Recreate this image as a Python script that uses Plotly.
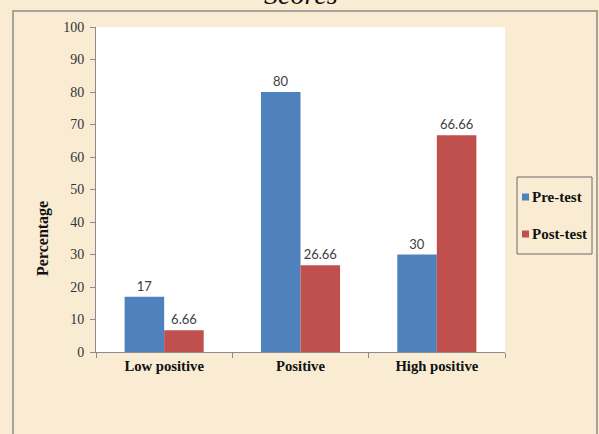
import plotly.graph_objects as go

categories = ["Low positive", "Positive", "High positive"]
series_names = ["Pre-test", "Post-test"]
pre_test = [17, 80, 30]
post_test = [6.66, 26.66, 66.66]
y_ticks = [0, 10, 20, 30, 40, 50, 60, 70, 80, 90, 100]
colors = ["#4F81BD", "#C0504D"]

W, H = 599, 434
L, R, T, B = 96, 505, 27, 352  # plot area pixel edges

def px_x(px):
    return (px - L) / (R - L)

def px_y(py):
    return (B - py) / (B - T)

fig = go.Figure()
for name, vals, col in zip(series_names, [pre_test, post_test], colors):
    fig.add_trace(go.Bar(
        x=categories, y=vals, name=name, marker_color=col,
        marker_line_width=0,
        text=[f"{v:g}" for v in vals], textposition="outside",
        textfont=dict(family="Lato", size=13, color="#404040"),
        cliponaxis=False, showlegend=False,
    ))

serif = "Liberation Serif"
shapes = [
    # outer chart frame
    dict(type="rect", xref="paper", yref="paper", x0=px_x(13), x1=px_x(597),
         y0=px_y(460), y1=px_y(11), line=dict(color="#8c8c8c", width=1.5), layer="below"),
    # legend box
    dict(type="rect", xref="paper", yref="paper", x0=px_x(517), x1=px_x(592),
         y0=px_y(254), y1=px_y(177), line=dict(color="#6b6b6b", width=1)),
]
annotations = [
    dict(text="<i>Scores</i>", xref="paper", yref="paper", x=0.5, y=px_y(12),
         xanchor="center", yanchor="bottom", showarrow=False,
         font=dict(family=serif, size=28, color="#111111")),
    dict(text="<b>Percentage</b>", xref="paper", yref="paper", x=px_x(43), y=px_y(239),
         xanchor="center", yanchor="middle", textangle=-90, showarrow=False,
         font=dict(family=serif, size=16, color="#111111")),
]
leg_y = [197, 234]
for name, col, ly in zip(series_names, colors, leg_y):
    shapes.append(dict(type="rect", xref="paper", yref="paper",
                       x0=px_x(522), x1=px_x(529), y0=px_y(ly + 3.5), y1=px_y(ly - 3.5),
                       fillcolor=col, line=dict(width=0)))
    annotations.append(dict(text=f"<b>{name}</b>", xref="paper", yref="paper",
                            x=px_x(530), y=px_y(ly), xanchor="left", yanchor="middle",
                            showarrow=False, font=dict(family=serif, size=15, color="#111111")))

fig.update_layout(
    width=W, height=H,
    margin=dict(l=L, r=W - R, t=T, b=H - B, pad=0),
    paper_bgcolor="#F9ECD3", plot_bgcolor="#FFFFFF",
    barmode="group", bargap=0.42, bargroupgap=0,
    shapes=shapes, annotations=annotations,
    showlegend=False,
    xaxis=dict(type="category", showgrid=False, showline=True, linecolor="#8c8c8c",
               ticks="outside", tickson="boundaries", ticklen=5, tickcolor="#8c8c8c",
               tickfont=dict(family=serif, size=14.7, color="#111111"),
               tickprefix="<b>", ticksuffix="</b>", zeroline=False),
    yaxis=dict(range=[0, 100], tickvals=y_ticks, showgrid=False, showline=True,
               linecolor="#8c8c8c", ticks="outside", ticklen=5, tickcolor="#8c8c8c",
               ticklabelstandoff=3,
               tickfont=dict(family=serif, size=14, color="#333333"), zeroline=False),
    font=dict(family=serif),
)
fig.write_html("out.html")
